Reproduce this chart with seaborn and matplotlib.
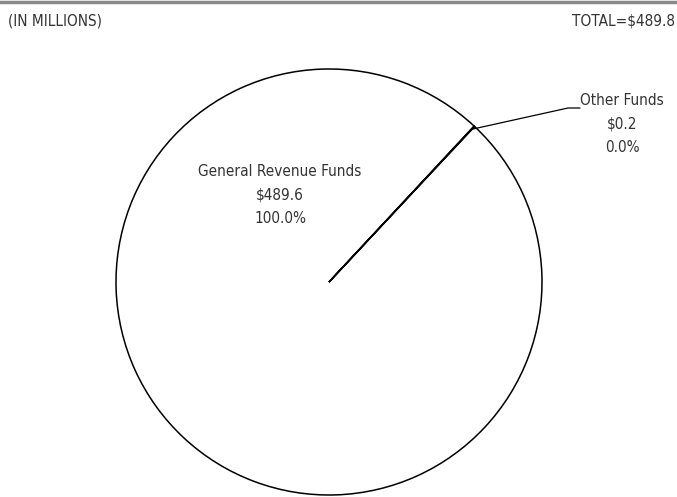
import matplotlib
matplotlib.use("Agg")
import seaborn as sns
from matplotlib import pyplot as plt

sources = ["General Revenue Funds", "Other Funds"]
amounts = [489.6, 0.2]
percents = ["100.0%", "0.0%"]
total = 489.8

sns.set_theme(style="white")
plt.rcParams['font.family'] = ['DejaVu Sans']
plt.rcParams['font.stretch'] = 'condensed'
ink = "#333333"

fig = plt.figure(figsize=(6.77, 4.97), dpi=100)
ax = fig.add_axes([0, 0, 1, 1])

# pie drawn as outline only, one slice line
ax.pie(amounts, startangle=46.9, counterclock=False, center=(329, 215), radius=213,
       colors=["white", "white"],
       wedgeprops=dict(edgecolor="black", linewidth=1.1))
# pie resets the limits, so set them after
ax.set_xlim(0, 677)
ax.set_ylim(0, 497)
ax.set_aspect("equal")
ax.axis("off")

ax.plot([0, 677], [495, 495], color="#888888", lw=2.5, clip_on=False)
fig.text(0.012, 0.958, "(IN MILLIONS)", ha="left", va="center", fontsize=11, color=ink)
fig.text(0.997, 0.958, "TOTAL=$%.1f" % total, ha="right", va="center", fontsize=11, color=ink)

ax.text(280, 302, "%s\n$%.1f\n%s" % (sources[0], amounts[0], percents[0]),
        ha="center", va="center", fontsize=11, color=ink, linespacing=1.7)
ax.text(622, 373, "%s\n$%.1f\n%s" % (sources[1], amounts[1], percents[1]),
        ha="center", va="center", fontsize=11, color=ink, linespacing=1.7)
ax.plot([473, 568, 580], [368, 389, 389], color="black", lw=0.9)

fig.savefig("out.png", dpi=100)
